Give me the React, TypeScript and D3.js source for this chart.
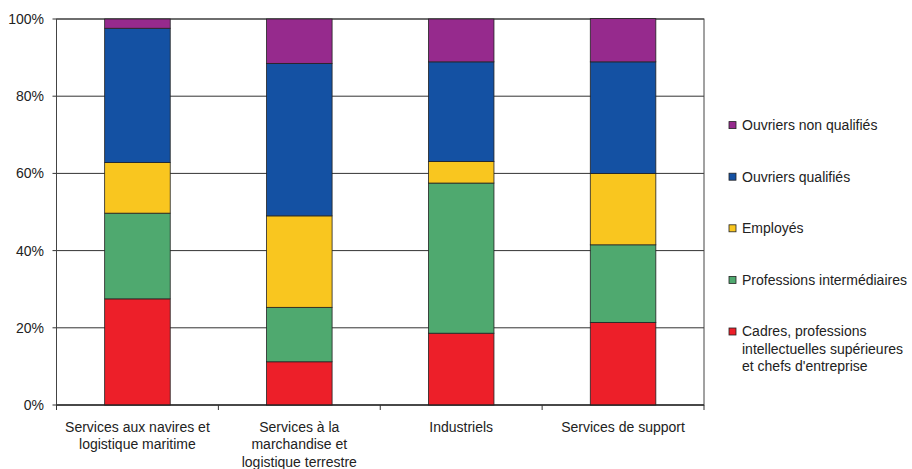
import React from "react";
import * as d3 from "d3";

const categories: string[][] = [
  ["Services aux navires et", "logistique maritime"],
  ["Services à la", "marchandise et", "logistique terrestre"],
  ["Industriels"],
  ["Services de support"],
];
const seriesNames = [
  "Cadres, professions intellectuelles supérieures et chefs d'entreprise",
  "Professions intermédiaires",
  "Employés",
  "Ouvriers qualifiés",
  "Ouvriers non qualifiés",
];
const legendLines: string[][] = [
  ["Cadres, professions", "intellectuelles supérieures", "et chefs d'entreprise"],
  ["Professions intermédiaires"],
  ["Employés"],
  ["Ouvriers qualifiés"],
  ["Ouvriers non qualifiés"],
];
const colors = ["#ED1F29", "#4FA96F", "#F9C61F", "#1451A3", "#962A8D"];
const cadres = [27.5, 11.2, 18.6, 21.4];
const intermediaires = [22.2, 14.1, 38.9, 20.1];
const employes = [13.1, 23.7, 5.6, 18.5];
const qualifies = [34.8, 39.5, 25.8, 28.9];
const nonQualifies = [2.4, 11.5, 11.1, 11.2];
const yTicks = [0, 20, 40, 60, 80, 100];

const W = 912, H = 469;
const L = 56.5, R = 704, T = 19, B = 405;
const FONT = "'Liberation Sans', Arial, sans-serif";
const FS = 14;

export default function App() {
  const series = [cadres, intermediaires, employes, qualifies, nonQualifies];
  const x = d3.scaleBand<number>().domain(d3.range(categories.length)).range([L, R]).paddingInner(0).paddingOuter(0);
  const y = d3.scaleLinear().domain([0, 100]).range([B, T]);
  const bw = x.bandwidth() * 0.405;
  const table = categories.map((_, i) => {
    const o: any = { i };
    series.forEach((s, k) => (o["s" + k] = s[i]));
    return o;
  });
  const stack = d3.stack<any>().keys(series.map((_, k) => "s" + k))(table);

  return (
    <svg width={W} height={H} style={{ position: "absolute", left: 0, top: 0, background: "#fff" }} fontFamily={FONT}>
      {yTicks.map((t) => (
        <g key={t}>
          <line x1={L} x2={R} y1={y(t)} y2={y(t)} stroke="#333" strokeWidth={1} />
          <line x1={L - 4} x2={L} y1={y(t)} y2={y(t)} stroke="#333" strokeWidth={1} />
          <text x={L - 12.5} y={y(t)} dy="0.35em" textAnchor="end" fontSize={FS} fill="#222">
            {t}%
          </text>
        </g>
      ))}
      <rect x={L} y={T} width={R - L} height={B - T} fill="none" stroke="#444" strokeWidth={1} />
      {stack.map((layer, k) =>
        layer.map((d, i) => (
          <rect
            key={k + "-" + i}
            x={(x(i) as number) + x.bandwidth() / 2 - bw / 2}
            y={y(d[1])}
            width={bw}
            height={y(d[0]) - y(d[1])}
            fill={colors[k]}
            stroke="#222"
            strokeWidth={0.8}
          />
        ))
      )}
      <line x1={L} x2={R} y1={B} y2={B} stroke="#222" strokeWidth={1} />
      {d3.range(categories.length + 1).map((i) => {
        const xx = i < categories.length ? (x(i) as number) : R;
        return <line key={"t" + i} x1={xx} x2={xx} y1={B} y2={B + 5} stroke="#333" />;
      })}
      {categories.map((lines, i) => (
        <text key={"c" + i} x={(x(i) as number) + x.bandwidth() / 2} y={426.7} textAnchor="middle" fontSize={FS} fill="#222">
          {lines.map((ln, j) => (
            <tspan key={j} x={(x(i) as number) + x.bandwidth() / 2} y={426.7 + j * 17.5} dy="0.35em">
              {ln}
            </tspan>
          ))}
        </text>
      ))}
      {legendLines.map((lines, k) => {
        const cy = 331.5 - k * 51.6;
        return (
          <g key={"l" + k}>
            <rect x={729} y={cy - 3.5} width={7} height={7} fill={colors[k]} stroke="#222" strokeWidth={0.8} />
            <text fontSize={FS} fill="#222">
              {lines.map((ln, j) => (
                <tspan key={j} x={742} y={cy + j * 17.3} dy="0.35em">
                  {ln}
                </tspan>
              ))}
            </text>
          </g>
        );
      })}
    </svg>
  );
}
